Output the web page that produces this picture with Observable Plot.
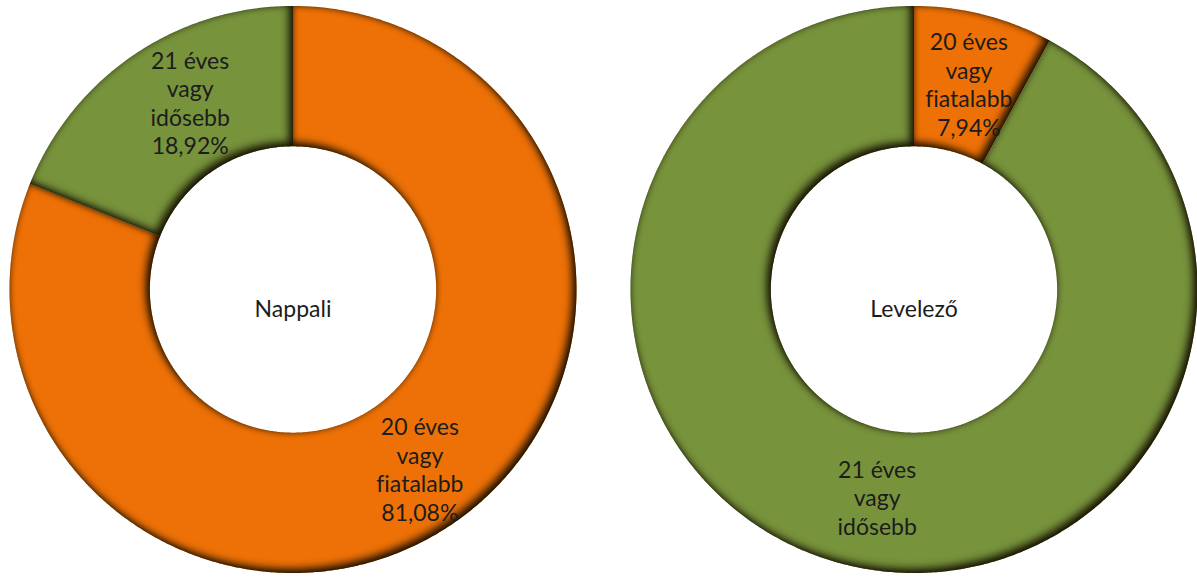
<!DOCTYPE html>
<html><head><meta charset="utf-8">
<script src="https://cdn.jsdelivr.net/npm/d3@7"></script>
<script src="https://cdn.jsdelivr.net/npm/@observablehq/plot@0.6"></script>
<style>body{margin:0;background:#fff;} #chart{width:1197px;height:577px;} svg text{font-variant-ligatures:none;font-feature-settings:"liga" 0;}</style>
</head><body><div id="chart"></div>
<script>
// ---- data ----
const charts = ["Nappali", "Levelező"];
const categories = ["20 éves vagy fiatalabb", "21 éves vagy idősebb"];
const nappaliValues = [81.08, 18.92];
const levelezoValues = [7.94, 92.06];
const nappaliLabels = [["20 éves", "vagy", "fiatalabb", "81,08%"], ["21 éves", "vagy", "idősebb", "18,92%"]];
const levelezoLabels = [["20 éves", "vagy", "fiatalabb", "7,94%"], ["21 éves", "vagy", "idősebb"]];
const colors = ["#EE7107", "#77933C"];

// ---- layout ----
const W = 1197, H = 577, Rpx = 283.5, cyPx = 289;
const centersPx = [292.5, 913.5];
const innerRatio = 0.505, labelRadius = 0.755;
// small label nudges (px) per chart / slice, like the spreadsheet's label placement
const labelNudgePx = [[[7, 2], [17, -10]], [[2, 2], [16, 0]]];
const xDomain = [(0 - centersPx[0]) / Rpx, (W - centersPx[0]) / Rpx];
const yDomain = [(cyPx - H) / Rpx, cyPx / Rpx];

const seriesValues = [nappaliValues, levelezoValues];
const seriesLabels = [nappaliLabels, levelezoLabels];

const ringPoints = [];
const labelRows = [];
const centerRows = [];
seriesValues.forEach((values, i) => {
  const ox = (centersPx[i] - centersPx[0]) / Rpx;
  const total = d3.sum(values);
  let a0 = 0;
  centerRows.push({x: ox, y: 0, text: charts[i]});
  values.forEach((v, j) => {
    const span = v / total * 2 * Math.PI;
    const a1 = a0 + span;
    const n = Math.max(2, Math.ceil(span / (Math.PI / 360)));
    const key = charts[i] + "|" + categories[j];
    for (let k = 0; k <= n; k++) {
      const a = a0 + span * k / n;
      ringPoints.push({key, cat: categories[j], x: ox + Math.sin(a), y: Math.cos(a)});
    }
    for (let k = n; k >= 0; k--) {
      const a = a0 + span * k / n;
      ringPoints.push({key, cat: categories[j], x: ox + innerRatio * Math.sin(a), y: innerRatio * Math.cos(a)});
    }
    const am = (a0 + a1) / 2;
    const [nx, ny] = labelNudgePx[i][j];
    labelRows.push({
      x: ox + labelRadius * Math.sin(am) + nx / Rpx,
      y: labelRadius * Math.cos(am) - ny / Rpx,
      text: seriesLabels[i][j].join("\n")
    });
    a0 = a1;
  });
});

const plot = Plot.plot({
  width: W, height: H, margin: 0,
  x: {domain: xDomain, axis: null},
  y: {domain: yDomain, axis: null},
  color: {domain: categories, range: colors},
  style: {fontFamily: "Lato, 'Open Sans', sans-serif", background: "#fff"},
  marks: [
    Plot.line(ringPoints, {x: "x", y: "y", z: "key", fill: "cat", stroke: null, strokeWidth: 0}),
    Plot.text(labelRows, {x: "x", y: "y", text: "text", fontSize: 23, lineHeight: 1.24, fill: "#1c1c1c"}),
    Plot.text(centerRows, {x: "x", y: "y", text: "text", fontSize: 23, dy: 20, fill: "#1c1c1c"})
  ]
});

// bevel-like inner shadow
const svg = d3.select(plot);
const defs = svg.insert("defs", ":first-child");
defs.html(`
<filter id="bevel" x="-20%" y="-20%" width="140%" height="140%" color-interpolation-filters="sRGB">
  <feComponentTransfer in="SourceAlpha" result="inv"><feFuncA type="table" tableValues="1 0"/></feComponentTransfer>
  <feOffset in="inv" dx="-4" dy="-4" result="off"/>
  <feGaussianBlur in="off" stdDeviation="4" result="blur"/>
  <feFlood flood-color="#140d00" flood-opacity="0.95" result="fl"/>
  <feComposite in="fl" in2="blur" operator="in" result="shadow"/>
  <feComposite in="shadow" in2="SourceAlpha" operator="in" result="inner"/>
  <feGaussianBlur in="inv" stdDeviation="3" result="blur2"/>
  <feFlood flood-color="#140d00" flood-opacity="0.55" result="fl2"/>
  <feComposite in="fl2" in2="blur2" operator="in" result="shadow2"/>
  <feComposite in="shadow2" in2="SourceAlpha" operator="in" result="inner2"/>
  <feMerge><feMergeNode in="SourceGraphic"/><feMergeNode in="inner2"/><feMergeNode in="inner"/></feMerge>
</filter>`);
svg.selectAll("g[aria-label=line] path").attr("filter", "url(#bevel)");

document.getElementById("chart").appendChild(plot);
</script></body></html>
